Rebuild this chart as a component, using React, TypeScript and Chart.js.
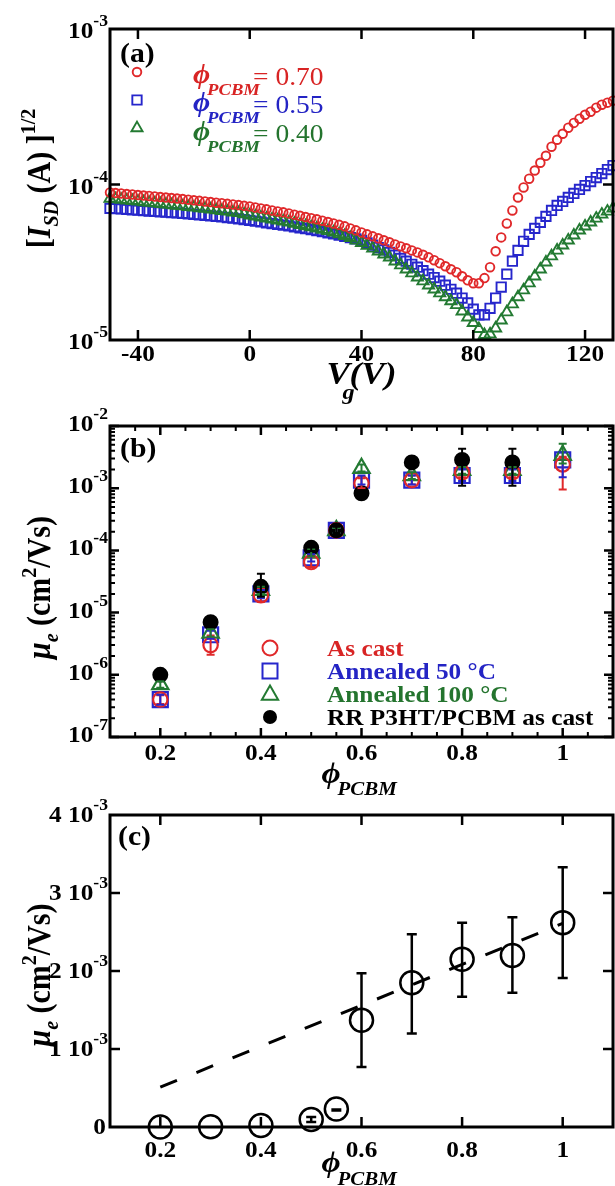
import React, { useEffect, useRef } from "react";
import { Chart, registerables } from "chart.js";

Chart.register(...registerables);

const PAGE_W = 615;
const PAGE_H = 1186;
const SERIF = '"Liberation Serif", "Times New Roman", Times, serif';
const HS = 1.1; // horizontal text stretch of the original figure
const PHI = "\u03D5";

const fb = (s: number) => `bold ${s}px ${SERIF}`;
const fbi = (s: number) => `italic bold ${s}px ${SERIF}`;
const fr = (s: number) => `${s}px ${SERIF}`;

const RED = "#e0282a";
const BLUE = "#2626cc";
const GREEN = "#237a32";
const BLACK = "#000000";
const TXT_RED = "#d82424";
const TXT_BLUE = "#2424c4";
const TXT_GREEN = "#24742e";

// ---------------- Panel (a) ----------------
const aGateV = [-50, -48, -46, -44, -42, -40, -38, -36, -34, -32, -30, -28, -26, -24, -22, -20, -18, -16, -14, -12, -10, -8, -6, -4, -2, 0, 2, 4, 6, 8, 10, 12, 14, 16, 18, 20, 22, 24, 26, 28, 30, 32, 34, 36, 38, 40, 42, 44, 46, 48, 50, 52, 54, 56, 58, 60, 62, 64, 66, 68, 70, 72, 74, 76, 78, 80, 82, 84, 86, 88, 90, 92, 94, 96, 98, 100, 102, 104, 106, 108, 110, 112, 114, 116, 118, 120, 122, 124, 126, 128, 130];
const aPhi070 = [8.89e-5, 8.82e-5, 8.76e-5, 8.69e-5, 8.63e-5, 8.56e-5, 8.5e-5, 8.44e-5, 8.38e-5, 8.31e-5, 8.25e-5, 8.19e-5, 8.13e-5, 8.06e-5, 7.99e-5, 7.92e-5, 7.85e-5, 7.78e-5, 7.71e-5, 7.64e-5, 7.58e-5, 7.51e-5, 7.44e-5, 7.37e-5, 7.29e-5, 7.23e-5, 7.12e-5, 7.02e-5, 6.92e-5, 6.81e-5, 6.71e-5, 6.62e-5, 6.52e-5, 6.4e-5, 6.29e-5, 6.18e-5, 6.07e-5, 5.97e-5, 5.85e-5, 5.74e-5, 5.62e-5, 5.5e-5, 5.38e-5, 5.22e-5, 5.07e-5, 4.92e-5, 4.78e-5, 4.64e-5, 4.51e-5, 4.38e-5, 4.25e-5, 4.12e-5, 4.0e-5, 3.89e-5, 3.77e-5, 3.66e-5, 3.53e-5, 3.4e-5, 3.26e-5, 3.12e-5, 2.98e-5, 2.85e-5, 2.73e-5, 2.57e-5, 2.42e-5, 2.32e-5, 2.32e-5, 2.5e-5, 2.94e-5, 3.72e-5, 4.57e-5, 5.62e-5, 6.81e-5, 8.25e-5, 9.57e-5, 1.09e-4, 1.23e-4, 1.38e-4, 1.53e-4, 1.75e-4, 1.94e-4, 2.12e-4, 2.32e-4, 2.49e-4, 2.65e-4, 2.81e-4, 2.94e-4, 3.12e-4, 3.26e-4, 3.36e-4, 3.46e-4];
const aPhi055 = [7.02e-5, 6.99e-5, 6.96e-5, 6.92e-5, 6.87e-5, 6.83e-5, 6.79e-5, 6.75e-5, 6.71e-5, 6.67e-5, 6.63e-5, 6.6e-5, 6.56e-5, 6.52e-5, 6.47e-5, 6.42e-5, 6.38e-5, 6.33e-5, 6.28e-5, 6.24e-5, 6.18e-5, 6.13e-5, 6.07e-5, 6.02e-5, 5.95e-5, 5.88e-5, 5.81e-5, 5.74e-5, 5.67e-5, 5.61e-5, 5.54e-5, 5.48e-5, 5.41e-5, 5.34e-5, 5.27e-5, 5.2e-5, 5.12e-5, 5.05e-5, 4.97e-5, 4.89e-5, 4.81e-5, 4.73e-5, 4.64e-5, 4.55e-5, 4.47e-5, 4.38e-5, 4.22e-5, 4.08e-5, 3.93e-5, 3.8e-5, 3.66e-5, 3.51e-5, 3.35e-5, 3.21e-5, 3.07e-5, 2.94e-5, 2.79e-5, 2.65e-5, 2.52e-5, 2.39e-5, 2.25e-5, 2.12e-5, 2.0e-5, 1.86e-5, 1.73e-5, 1.58e-5, 1.45e-5, 1.45e-5, 1.6e-5, 1.86e-5, 2.19e-5, 2.65e-5, 3.21e-5, 3.77e-5, 4.31e-5, 4.78e-5, 5.22e-5, 5.71e-5, 6.24e-5, 6.81e-5, 7.33e-5, 7.78e-5, 8.25e-5, 8.76e-5, 9.29e-5, 9.85e-5, 1.045e-4, 1.109e-4, 1.176e-4, 1.248e-4, 1.324e-4];
const aPhi040 = [8.13e-5, 8.06e-5, 7.99e-5, 7.92e-5, 7.85e-5, 7.78e-5, 7.71e-5, 7.64e-5, 7.58e-5, 7.51e-5, 7.44e-5, 7.38e-5, 7.31e-5, 7.25e-5, 7.18e-5, 7.12e-5, 7.06e-5, 7.0e-5, 6.92e-5, 6.85e-5, 6.78e-5, 6.71e-5, 6.63e-5, 6.56e-5, 6.44e-5, 6.33e-5, 6.24e-5, 6.15e-5, 6.05e-5, 5.97e-5, 5.88e-5, 5.79e-5, 5.71e-5, 5.61e-5, 5.51e-5, 5.41e-5, 5.32e-5, 5.22e-5, 5.12e-5, 5.03e-5, 4.92e-5, 4.8e-5, 4.68e-5, 4.54e-5, 4.38e-5, 4.22e-5, 4.05e-5, 3.88e-5, 3.72e-5, 3.56e-5, 3.4e-5, 3.21e-5, 3.03e-5, 2.85e-5, 2.69e-5, 2.53e-5, 2.39e-5, 2.25e-5, 2.12e-5, 2.0e-5, 1.89e-5, 1.78e-5, 1.68e-5, 1.53e-5, 1.4e-5, 1.29e-5, 1.18e-5, 1.08e-5, 1.09e-5, 1.19e-5, 1.34e-5, 1.51e-5, 1.7e-5, 1.89e-5, 2.09e-5, 2.32e-5, 2.57e-5, 2.85e-5, 3.16e-5, 3.46e-5, 3.77e-5, 4.06e-5, 4.38e-5, 4.71e-5, 5.07e-5, 5.38e-5, 5.71e-5, 6.05e-5, 6.42e-5, 6.71e-5, 7.02e-5];
const aTickX = [-40, 0, 40, 80, 120];
const aTickXLabels = ["-40", "0", "40", "80", "120"];
const aTickY = [1e-5, 1e-4, 1e-3];
const aTickYExp = ["-5", "-4", "-3"];
const aLegendValues = ["= 0.70", "= 0.55", "= 0.40"];

// ---------------- Panel (b) ----------------
const bPhi = [0.2, 0.3, 0.4, 0.5, 0.55, 0.6, 0.7, 0.8, 0.9, 1.0];
const bAsCast = [4.0e-7, 3.0e-6, 1.9e-5, 6.5e-5, 2.1e-4, 1.2e-3, 1.35e-3, 1.8e-3, 1.8e-3, 2.4e-3];
const bAsCastLo = [3.4e-7, 2.1e-6, 1.5e-5, 5.4e-5, 1.9e-4, 1.0e-3, 1.15e-3, 1.5e-3, 1.5e-3, 9.5e-4];
const bAsCastHi = [4.7e-7, 4.3e-6, 2.4e-5, 7.8e-5, 2.3e-4, 1.45e-3, 1.6e-3, 2.2e-3, 2.2e-3, 3.2e-3];
const bAnn50 = [4.0e-7, 4.4e-6, 2.0e-5, 7.6e-5, 2.1e-4, 1.35e-3, 1.35e-3, 1.6e-3, 1.6e-3, 2.85e-3];
const bAnn50Lo = [3.3e-7, 3.8e-6, 1.7e-5, 6.6e-5, 1.9e-4, 1.15e-3, 1.15e-3, 1.3e-3, 1.3e-3, 1.5e-3];
const bAnn50Hi = [4.8e-7, 5.1e-6, 2.3e-5, 8.7e-5, 2.3e-4, 1.6e-3, 1.6e-3, 2.0e-3, 2.0e-3, 3.8e-3];
const bAnn100 = [7.0e-7, 4.7e-6, 2.3e-5, 9.1e-5, 2.1e-4, 2.1e-3, 1.6e-3, 1.95e-3, 1.95e-3, 3.4e-3];
const bAnn100Lo = [6.2e-7, 4.1e-6, 2.0e-5, 8.0e-5, 1.9e-4, 1.85e-3, 1.4e-3, 1.7e-3, 1.7e-3, 2.5e-3];
const bAnn100Hi = [7.9e-7, 5.4e-6, 2.6e-5, 1.03e-4, 2.3e-4, 2.4e-3, 1.8e-3, 2.2e-3, 2.2e-3, 5.2e-3];
const bPhiRR = [0.2, 0.3, 0.4, 0.5, 0.55, 0.6, 0.7, 0.8, 0.9];
const bRR = [1.0e-6, 7.0e-6, 2.6e-5, 1.1e-4, 2.1e-4, 8.3e-4, 2.6e-3, 2.85e-3, 2.6e-3];
const bRRLo = [9.0e-7, 6.2e-6, 1.8e-5, 9.8e-5, 1.9e-4, 7.4e-4, 2.3e-3, 1.1e-3, 1.1e-3];
const bRRHi = [1.1e-6, 7.8e-6, 4.2e-5, 1.25e-4, 2.4e-4, 9.3e-4, 2.9e-3, 4.3e-3, 4.3e-3];
const bTickX = [0.2, 0.4, 0.6, 0.8, 1.0];
const bTickXLabels = ["0.2", "0.4", "0.6", "0.8", "1"];
const bMinorX = [0.15, 0.25, 0.3, 0.35, 0.45, 0.5, 0.55, 0.65, 0.7, 0.75, 0.85, 0.9, 0.95, 1.05];
const bTickY = [1e-7, 1e-6, 1e-5, 1e-4, 1e-3, 1e-2];
const bTickYExp = ["-7", "-6", "-5", "-4", "-3", "-2"];
const bLegendLabels = ["As cast", "Annealed 50 °C", "Annealed 100 °C", "RR P3HT/PCBM as cast"];

// ---------------- Panel (c) ----------------
const cPhi = [0.2, 0.3, 0.4, 0.5, 0.55, 0.6, 0.7, 0.8, 0.9, 1.0];
const cMobility = [4e-7, 3e-6, 2e-5, 9.6e-5, 2.3e-4, 1.37e-3, 1.85e-3, 2.15e-3, 2.2e-3, 2.62e-3];
const cLo = [null, null, null, 6.4e-5, 2.1e-4, 7.7e-4, 1.2e-3, 1.67e-3, 1.72e-3, 1.91e-3];
const cHi = [null, null, null, 1.28e-4, 2.25e-4, 1.97e-3, 2.47e-3, 2.62e-3, 2.69e-3, 3.33e-3];
const cFitPhi = [0.2, 1.0];
const cFitMobility = [5.1e-4, 2.61e-3];
const cTickX = [0.2, 0.4, 0.6, 0.8, 1.0];
const cTickXLabels = ["0.2", "0.4", "0.6", "0.8", "1"];
const cTickY = [0, 1e-3, 2e-3, 3e-3, 4e-3];
const cTickYLabels = ["0", "1 10", "2 10", "3 10", "4 10"];
const cTickYExp = ["", "-3", "-3", "-3", "-3"];

// ---------------- drawing helpers ----------------
type Run = { t: string; font: string; dy?: number; gap?: number; color?: string };

function runsWidth(ctx: CanvasRenderingContext2D, runs: Run[], sx: number) {
  let w = 0;
  for (const r of runs) {
    ctx.font = r.font;
    w += ctx.measureText(r.t).width * sx + (r.gap || 0);
  }
  return w;
}

function drawRuns(ctx: CanvasRenderingContext2D, runs: Run[], x: number, y: number, align: string, color: string, sx = HS) {
  ctx.save();
  const w = runsWidth(ctx, runs, sx);
  let cx = align === "left" ? x : align === "center" ? x - w / 2 : x - w;
  ctx.textAlign = "left";
  ctx.textBaseline = "alphabetic";
  for (const r of runs) {
    ctx.font = r.font;
    const rw = ctx.measureText(r.t).width * sx;
    cx += r.gap || 0;
    ctx.save();
    ctx.translate(cx, y + (r.dy || 0));
    ctx.scale(sx, 1);
    ctx.fillStyle = r.color || color;
    ctx.fillText(r.t, 0, 0);
    ctx.restore();
    cx += rw;
  }
  ctx.restore();
}

function drawRunsRotated(ctx: CanvasRenderingContext2D, runs: Run[], x: number, y: number, color: string) {
  ctx.save();
  ctx.translate(x, y);
  ctx.rotate(-Math.PI / 2);
  ctx.scale(1, HS);
  drawRuns(ctx, runs, 0, 0, "center", color, 1);
  ctx.restore();
}

function drawFrame(ctx: CanvasRenderingContext2D, a: any) {
  ctx.save();
  ctx.strokeStyle = BLACK;
  ctx.lineWidth = 3;
  ctx.strokeRect(a.left, a.top, a.right - a.left, a.bottom - a.top);
  ctx.restore();
}

function ticksX(ctx: CanvasRenderingContext2D, scale: any, a: any, vals: number[], len: number, lw = 2.5) {
  ctx.save();
  ctx.strokeStyle = BLACK;
  ctx.lineWidth = lw;
  ctx.beginPath();
  for (const v of vals) {
    const px = scale.getPixelForValue(v);
    ctx.moveTo(px, a.bottom);
    ctx.lineTo(px, a.bottom - len);
    ctx.moveTo(px, a.top);
    ctx.lineTo(px, a.top + len);
  }
  ctx.stroke();
  ctx.restore();
}

function ticksY(ctx: CanvasRenderingContext2D, scale: any, a: any, vals: number[], len: number, lw = 2.5) {
  ctx.save();
  ctx.strokeStyle = BLACK;
  ctx.lineWidth = lw;
  ctx.beginPath();
  for (const v of vals) {
    const py = scale.getPixelForValue(v);
    ctx.moveTo(a.left, py);
    ctx.lineTo(a.left + len, py);
    ctx.moveTo(a.right, py);
    ctx.lineTo(a.right - len, py);
  }
  ctx.stroke();
  ctx.restore();
}

function marker(ctx: CanvasRenderingContext2D, style: string, x: number, y: number, r: number, color: string, lw: number, filled: boolean) {
  ctx.save();
  ctx.strokeStyle = color;
  ctx.fillStyle = color;
  ctx.lineWidth = lw;
  ctx.beginPath();
  if (style === "circle") {
    ctx.arc(x, y, r, 0, Math.PI * 2);
  } else if (style === "rect") {
    const s = r * Math.SQRT1_2;
    ctx.rect(x - s, y - s, 2 * s, 2 * s);
  } else {
    let rad = 0;
    ctx.moveTo(x + Math.sin(rad) * r, y - Math.cos(rad) * r);
    rad += (2 * Math.PI) / 3;
    ctx.lineTo(x + Math.sin(rad) * r, y - Math.cos(rad) * r);
    rad += (2 * Math.PI) / 3;
    ctx.lineTo(x + Math.sin(rad) * r, y - Math.cos(rad) * r);
    ctx.closePath();
  }
  if (filled) ctx.fill();
  else ctx.stroke();
  ctx.restore();
}

function errorBars(chart: any, xsArr: number[], lo: (number | null)[], hi: (number | null)[], color: string, cap: number, lw: number) {
  const ctx = chart.ctx;
  const xs = chart.scales.x;
  const ys = chart.scales.y;
  ctx.save();
  ctx.strokeStyle = color;
  ctx.lineWidth = lw;
  ctx.beginPath();
  xsArr.forEach((xv, i) => {
    const l = lo[i];
    const h = hi[i];
    if (l == null || h == null) return;
    const px = xs.getPixelForValue(xv);
    const y1 = ys.getPixelForValue(l);
    const y2 = ys.getPixelForValue(h);
    ctx.moveTo(px, y1);
    ctx.lineTo(px, y2);
    ctx.moveTo(px - cap, y1);
    ctx.lineTo(px + cap, y1);
    ctx.moveTo(px - cap, y2);
    ctx.lineTo(px + cap, y2);
  });
  ctx.stroke();
  ctx.restore();
}

function pts(xs: number[], ys: number[]) {
  return xs.map((x, i) => ({ x, y: ys[i] }));
}

function baseOptions(pad: any, xMin: number, xMax: number, yType: string, yMin: number, yMax: number) {
  return {
    responsive: false,
    animation: false,
    events: [],
    layout: { padding: pad, autoPadding: false },
    plugins: { legend: { display: false }, tooltip: { enabled: false }, title: { display: false } },
    scales: {
      x: { type: "linear", min: xMin, max: xMax, display: false },
      y: { type: yType, min: yMin, max: yMax, display: false },
    },
  };
}

function pointSet(label: string, xs: number[], ys: number[], style: string, r: number, color: string, lw: number, filled: boolean) {
  return {
    label,
    data: pts(xs, ys),
    showLine: false,
    clip: false,
    pointStyle: style,
    pointRadius: r,
    pointBorderWidth: lw,
    pointBorderColor: color,
    pointBackgroundColor: filled ? color : "rgba(0,0,0,0)",
    borderColor: color,
    backgroundColor: filled ? color : "rgba(0,0,0,0)",
  };
}

const yLabelTitle = (): Run[] => [
  { t: "μ", font: fbi(30) },
  { t: "e", font: fbi(20), dy: 7 },
  { t: " (cm", font: fb(30) },
  { t: "2", font: fb(20), dy: -13 },
  { t: "/Vs)", font: fb(30) },
];

function phiTitle(ctx: CanvasRenderingContext2D, a: any, phiBase: number, subBase: number) {
  const cx = (a.left + a.right) / 2;
  drawRuns(ctx, [{ t: PHI, font: fbi(30) }], cx - 40, phiBase, "left", BLACK);
  drawRuns(ctx, [{ t: "PCBM", font: fbi(19) }], cx - 24, subBase, "left", BLACK);
}

// ---------------- chart configs ----------------
function makeA(): any {
  const plugin = {
    id: "panelA",
    afterDraw(chart: any) {
      const ctx = chart.ctx;
      const a = chart.chartArea;
      const xs = chart.scales.x;
      const ys = chart.scales.y;
      drawFrame(ctx, a);
      ticksX(ctx, xs, a, aTickX, 10);
      ticksY(ctx, ys, a, [1e-4], 10);
      aTickX.forEach((v, i) => drawRuns(ctx, [{ t: aTickXLabels[i], font: fb(23) }], xs.getPixelForValue(v), a.bottom + 21, "center", BLACK));
      aTickY.forEach((v, i) =>
        drawRuns(ctx, [{ t: "10", font: fb(23) }, { t: aTickYExp[i], font: fb(16), dy: -12 }], 108, ys.getPixelForValue(v) + 9, "right", BLACK)
      );
      const cx = (a.left + a.right) / 2;
      drawRuns(ctx, [{ t: "V", font: fbi(32) }], cx - 35, a.bottom + 44, "left", BLACK);
      drawRuns(ctx, [{ t: "g", font: fbi(22) }], cx - 19, a.bottom + 59, "left", BLACK);
      drawRuns(ctx, [{ t: "(V)", font: fbi(32) }], cx - 12, a.bottom + 44, "left", BLACK);
      drawRunsRotated(
        ctx,
        [
          { t: "[", font: fb(30) },
          { t: "I", font: fbi(30) },
          { t: "SD", font: fbi(20), dy: 7 },
          { t: " (A) ]", font: fb(30) },
          { t: "1/2", font: fb(20), dy: -14 },
        ],
        50,
        (a.top + a.bottom) / 2 - 6,
        BLACK
      );
      drawRuns(ctx, [{ t: "(a)", font: fb(27) }], a.left + 10, a.top + 33, "left", BLACK);
      const styles = ["circle", "rect", "triangle"];
      const radii = [4.3, 6.6, 6.4];
      const cols = [RED, BLUE, GREEN];
      const tcols = [TXT_RED, TXT_BLUE, TXT_GREEN];
      const rows = [a.top + 56, a.top + 84, a.top + 113];
      for (let i = 0; i < 3; i++) {
        marker(ctx, styles[i], a.left + 27, rows[i] - 13 + (i === 2 ? -1 : 0), radii[i], cols[i], 1.9, false);
        drawRuns(ctx, [{ t: PHI, font: fbi(27) }], a.left + 83, rows[i] - 2, "left", tcols[i]);
        drawRuns(ctx, [{ t: "PCBM", font: fbi(17) }], a.left + 97, rows[i] + 10, "left", tcols[i]);
        drawRuns(ctx, [{ t: aLegendValues[i], font: fr(25) }], a.left + 143, rows[i], "left", tcols[i]);
      }
    },
  };
  return {
    type: "scatter",
    data: {
      datasets: [
        pointSet("ϕPCBM = 0.70", aGateV, aPhi070, "circle", 4.3, RED, 1.9, false),
        pointSet("ϕPCBM = 0.40", aGateV, aPhi040, "triangle", 6.4, GREEN, 1.9, false),
        pointSet("ϕPCBM = 0.55", aGateV, aPhi055, "rect", 6.6, BLUE, 1.9, false),
      ],
    },
    options: baseOptions({ left: 110, right: 2, top: 29, bottom: PAGE_H - 340 }, -50, 130, "logarithmic", 1e-5, 1e-3),
    plugins: [plugin],
  };
}

function makeB(): any {
  const minorY: number[] = [];
  for (let d = -7; d < -2; d++) for (let m = 2; m <= 9; m++) minorY.push(m * Math.pow(10, d));
  const plugin = {
    id: "panelB",
    afterDatasetsDraw(chart: any) {
      errorBars(chart, bPhi, bAsCastLo, bAsCastHi, RED, 4, 2);
      errorBars(chart, bPhi, bAnn50Lo, bAnn50Hi, BLUE, 4, 2);
      errorBars(chart, bPhi, bAnn100Lo, bAnn100Hi, GREEN, 4, 2);
      errorBars(chart, bPhiRR, bRRLo, bRRHi, BLACK, 4, 2);
    },
    afterDraw(chart: any) {
      const ctx = chart.ctx;
      const a = chart.chartArea;
      const xs = chart.scales.x;
      const ys = chart.scales.y;
      drawFrame(ctx, a);
      ticksX(ctx, xs, a, bTickX, 9);
      ticksX(ctx, xs, a, bMinorX, 5, 2);
      ticksY(ctx, ys, a, bTickY, 9);
      ticksY(ctx, ys, a, minorY, 5, 2);
      bTickX.forEach((v, i) => drawRuns(ctx, [{ t: bTickXLabels[i], font: fb(23) }], xs.getPixelForValue(v), a.bottom + 23, "center", BLACK));
      bTickY.forEach((v, i) =>
        drawRuns(ctx, [{ t: "10", font: fb(23) }, { t: bTickYExp[i], font: fb(16), dy: -12 }], 108, ys.getPixelForValue(v) + 5, "right", BLACK)
      );
      drawRunsRotated(ctx, yLabelTitle(), 50, (a.top + a.bottom) / 2 + 6, BLACK);
      phiTitle(ctx, a, a.bottom + 46, a.bottom + 58);
      drawRuns(ctx, [{ t: "(b)", font: fb(27) }], a.left + 10, a.top + 31, "left", BLACK);
      const styles = ["circle", "rect", "triangle", "circle"];
      const radii = [7.5, 10.6, 9.4, 7];
      const cols = [RED, BLUE, GREEN, BLACK];
      const tcols = [TXT_RED, TXT_BLUE, TXT_GREEN, BLACK];
      const rows = [a.bottom - 89, a.bottom - 66, a.bottom - 43, a.bottom - 20];
      for (let i = 0; i < 4; i++) {
        marker(ctx, styles[i], a.left + 160, rows[i] + (i === 2 ? 1 : 0), radii[i], cols[i], 2, i === 3);
        drawRuns(ctx, [{ t: bLegendLabels[i], font: fb(23) }], a.left + 217, rows[i] + 8, "left", tcols[i]);
      }
    },
  };
  return {
    type: "scatter",
    data: {
      datasets: [
        pointSet("RR P3HT/PCBM as cast", bPhiRR, bRR, "circle", 7, BLACK, 2, true),
        pointSet("As cast", bPhi, bAsCast, "circle", 7.2, RED, 2.2, false),
        pointSet("Annealed 100 °C", bPhi, bAnn100, "triangle", 9.4, GREEN, 2.2, false),
        pointSet("Annealed 50 °C", bPhi, bAnn50, "rect", 10.6, BLUE, 2.2, false),
      ],
    },
    options: baseOptions({ left: 110, right: 2, top: 426, bottom: PAGE_H - 737 }, 0.1, 1.1, "logarithmic", 1e-7, 1e-2),
    plugins: [plugin],
  };
}

function makeC(): any {
  const plugin = {
    id: "panelC",
    afterDatasetsDraw(chart: any) {
      errorBars(chart, cPhi, cLo, cHi, BLACK, 5, 2.5);
    },
    afterDraw(chart: any) {
      const ctx = chart.ctx;
      const a = chart.chartArea;
      const xs = chart.scales.x;
      const ys = chart.scales.y;
      drawFrame(ctx, a);
      ticksX(ctx, xs, a, cTickX, 10);
      ticksY(ctx, ys, a, [1e-3, 2e-3, 3e-3], 10);
      cTickX.forEach((v, i) => drawRuns(ctx, [{ t: cTickXLabels[i], font: fb(23) }], xs.getPixelForValue(v), a.bottom + 30, "center", BLACK));
      cTickY.forEach((v, i) => {
        const runs: Run[] = [{ t: cTickYLabels[i], font: fb(23) }];
        if (cTickYExp[i]) runs.push({ t: cTickYExp[i], font: fb(16), dy: -12 });
        drawRuns(ctx, runs, i === 0 ? 106 : 108, ys.getPixelForValue(v) + 7, "right", BLACK);
      });
      drawRunsRotated(ctx, yLabelTitle(), 50, (a.top + a.bottom) / 2 + 4, BLACK);
      phiTitle(ctx, a, a.bottom + 45, a.bottom + 58);
      drawRuns(ctx, [{ t: "(c)", font: fb(27) }], a.left + 8, a.top + 30, "left", BLACK);
    },
  };
  return {
    type: "scatter",
    data: {
      datasets: [
        pointSet("As cast", cPhi, cMobility, "circle", 11.5, BLACK, 2.5, false),
        {
          label: "fit",
          data: pts(cFitPhi, cFitMobility),
          showLine: true,
          clip: false,
          borderColor: BLACK,
          borderWidth: 3,
          borderDash: [18, 21],
          pointRadius: 0,
          fill: false,
        },
      ],
    },
    options: baseOptions({ left: 110, right: 2, top: 815, bottom: PAGE_H - 1127 }, 0.1, 1.1, "linear", 0, 4e-3),
    plugins: [plugin],
  };
}

export default function App() {
  const ra = useRef<HTMLCanvasElement | null>(null);
  const rb = useRef<HTMLCanvasElement | null>(null);
  const rc = useRef<HTMLCanvasElement | null>(null);

  useEffect(() => {
    const prev = document.body.style.margin;
    document.body.style.margin = "0";
    const charts: Chart[] = [];
    if (ra.current) charts.push(new Chart(ra.current, makeA()));
    if (rb.current) charts.push(new Chart(rb.current, makeB()));
    if (rc.current) charts.push(new Chart(rc.current, makeC()));
    return () => {
      charts.forEach((c) => c.destroy());
      document.body.style.margin = prev;
    };
  }, []);

  const cs: React.CSSProperties = { position: "absolute", left: 0, top: 0 };
  return (
    <div style={{ position: "absolute", left: 0, top: 0, width: PAGE_W, height: PAGE_H, background: "#fff", overflow: "hidden" }}>
      <canvas ref={ra} width={PAGE_W} height={PAGE_H} style={cs} />
      <canvas ref={rb} width={PAGE_W} height={PAGE_H} style={cs} />
      <canvas ref={rc} width={PAGE_W} height={PAGE_H} style={cs} />
    </div>
  );
}
